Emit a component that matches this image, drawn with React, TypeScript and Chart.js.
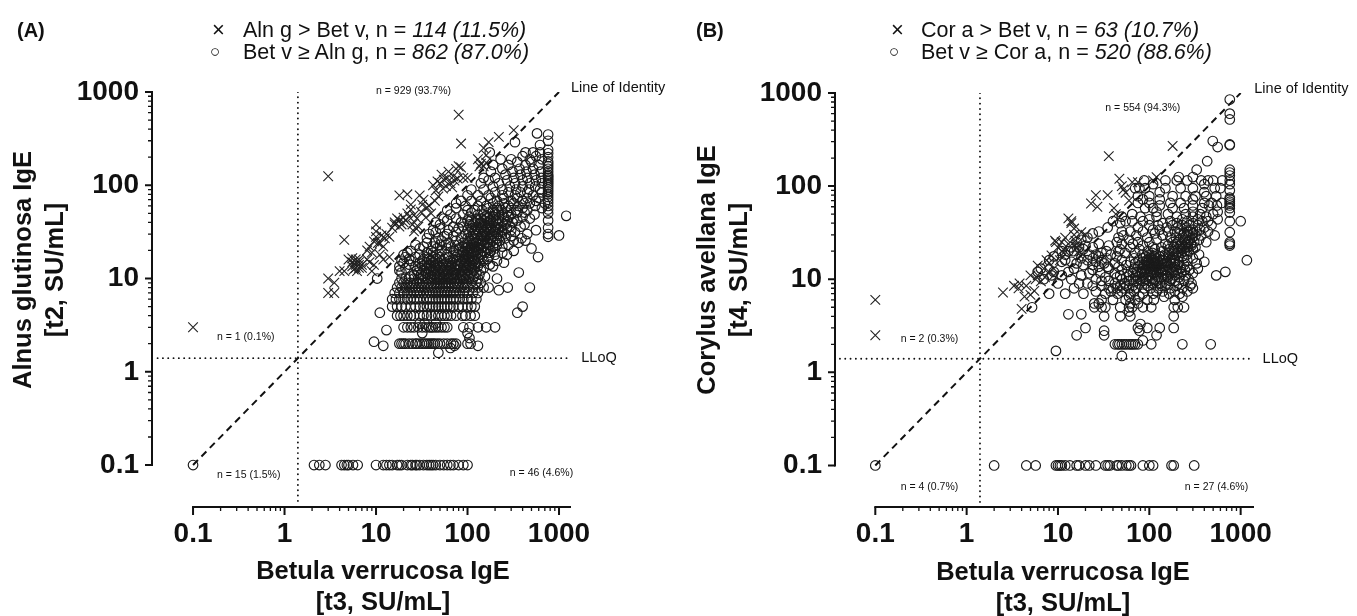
import React, { useEffect, useRef } from "react";
import { Chart, registerables } from "chart.js";

Chart.register(...registerables);

type Row = [number, number[]];
type Pair = [number, number];

const majorTicks = [0.1, 1, 10, 100, 1000];
const minorTicks = [0.2, 0.3, 0.4, 0.5, 0.6, 0.7, 0.8, 0.9, 2, 3, 4, 5, 6, 7, 8, 9, 20, 30, 40, 50, 60, 70, 80, 90, 200, 300, 400, 500, 600, 700, 800, 900];
const lloq = 1.4;

const zeroRowA = [0.1, 2.1, 2.4, 2.8, 4.2, 4.5, 4.8, 5, 5.6, 6.3, 10, 12, 13, 14, 15, 17, 18, 19, 22, 24, 25, 27, 28, 30, 33, 36, 38, 40, 42, 45, 50, 55, 60, 65, 70, 80, 90, 100];

const circleRowsA: Row[] = [
  [1.6, [48]], [1.8, [65]], [1.9, [12, 72, 130]], [2.1, [9.5]],
  [2, [18, 19, 20, 21, 23, 25, 27, 28, 30, 32, 34, 36, 38, 40, 42, 44, 47, 50, 55, 60, 66, 70, 75, 100, 108]],
  [2.3, [105]], [2.6, [32, 100]], [2.8, [13]],
  [3, [20, 22, 24, 26, 29, 32, 35, 38, 40, 42, 45, 48, 52, 56, 60, 90, 105, 130, 160, 200]],
  [3.3, [30, 34, 45]],
  [4, [17, 18.5, 20, 22, 24, 26, 30, 33, 36, 40, 44, 48, 52, 56, 60, 66, 75, 88, 95, 108, 120]],
  [4.3, [11, 350]],
  [5, [15, 17, 19, 21, 24, 27, 30, 33, 36, 39, 42, 45, 48, 52, 56, 60, 65, 70, 80, 88, 100, 110, 120, 400]],
  [6, [15, 16.5, 18, 20, 22, 24, 26, 28, 30, 33, 36, 39, 42, 45, 48, 52, 56, 60, 65, 70, 75, 82, 90, 100, 110, 125]],
  [7, [16, 18, 20, 22, 24, 26, 28, 30, 33, 36, 39, 42, 45, 48, 52, 56, 60, 65, 70, 75, 82, 90, 100, 115, 130]],
  [7.5, [220]],
  [8, [17, 19, 21, 23, 25, 27, 29, 31, 34, 37, 40, 43, 46, 50, 54, 58, 62, 67, 72, 78, 85, 92, 100, 115, 130, 150, 170, 275, 480]],
  [9, [18, 20, 22, 24, 26, 28, 30, 32, 35, 38, 41, 44, 47, 50, 54, 58, 62, 66, 71, 76, 82, 90, 98, 110, 125, 140]],
  [10, [10.3, 19, 21, 23, 26, 29, 31, 34, 37, 40, 43, 46, 49, 52, 56, 60, 64, 68, 72, 77, 83, 90, 97, 105, 115, 130, 210]],
  [10.5, [24, 33, 41, 47, 55, 63, 71, 88, 103, 118, 155]],
  [11, [26, 31, 37, 44, 50, 58, 66, 75, 86, 100, 135]],
  [11.6, [19, 29, 35, 40, 46, 54, 62, 72, 82, 94, 110, 125, 363]],
  [12.2, [18, 28, 34, 42, 48, 56, 60, 68, 76, 88, 100, 116, 140]],
  [12.9, [21, 30, 36, 39, 45, 52, 64, 72, 84, 96, 108, 120, 150]],
  [13.5, [18, 27, 32, 40, 44, 50, 58, 66, 78, 90, 104, 112, 130, 190]],
  [14.1, [23, 34, 38, 46, 54, 62, 74, 80, 92, 105, 120, 175]],
  [14.8, [20, 30, 36, 42, 48, 58, 68, 86, 98, 112, 124, 135, 250]],
  [15.5, [19, 24, 32, 40, 44, 52, 64, 76, 82, 94, 108, 116, 150, 210]],
  [16.2, [23, 33, 38, 46, 56, 70, 88, 100, 120, 130, 165]],
  [17, [21, 27, 36, 42, 50, 62, 74, 92, 105, 112, 145, 170, 590]],
  [18, [20, 30, 46, 60, 78, 84, 96, 102, 122, 140, 200, 270]],
  [18.9, [22, 36, 42, 70, 90, 108, 115, 130, 155, 175, 240]],
  [19.8, [24, 40, 52, 72, 88, 100, 118, 125, 150, 180, 320]],
  [21, [30, 46, 60, 80, 94, 106, 112, 132, 140, 165, 200, 500]],
  [22, [33, 42, 66, 88, 102, 118, 126, 150, 190, 240]],
  [23, [27, 50, 58, 80, 95, 110, 134, 142, 175, 210, 280]],
  [24.2, [36, 44, 62, 90, 100, 116, 124, 156, 165, 205, 360]],
  [25.5, [52, 75, 108, 132, 140, 148, 190, 225, 320, 430]],
  [27, [36, 48, 85, 100, 120, 130, 170, 180, 210, 260, 390]],
  [28.5, [56, 70, 110, 140, 150, 160, 195, 230, 300]],
  [30, [38, 60, 95, 115, 125, 145, 165, 185, 215, 260, 450]],
  [31.5, [45, 75, 105, 135, 155, 175, 200, 235, 330]],
  [33, [42, 62, 100, 120, 130, 150, 170, 190, 240, 300, 560]],
  [34.5, [50, 80, 110, 140, 160, 180, 205, 220, 270]],
  [36, [70, 90, 125, 145, 165, 200, 235, 290, 380]],
  [38, [50, 105, 115, 135, 155, 175, 215, 260, 420]],
  [40, [45, 85, 120, 140, 170, 190, 240, 310]],
  [42, [60, 100, 110, 130, 150, 180, 205, 270, 350]],
  [44, [55, 75, 125, 140, 165, 220, 320, 480]],
  [46, [105, 155, 175, 190, 250, 280, 400]],
  [48.5, [65, 90, 130, 150, 205, 240, 300, 540]],
  [51, [110, 170, 200, 220, 270, 350, 420]],
  [54, [60, 100, 120, 145, 190, 235, 340, 450]],
  [57, [75, 170, 210, 260, 300, 400, 650]],
  [60, [95, 130, 160, 220, 280, 360, 550]],
  [64, [75, 190, 250, 320, 420, 480, 700]],
  [68, [85, 110, 140, 210, 300, 400, 560]],
  [73, [180, 250, 350, 450, 600]],
  [78, [100, 130, 170, 240, 330, 520]],
  [84, [200, 280, 380, 450, 650]],
  [90, [110, 150, 240, 340, 470, 620]],
  [97, [190, 290, 400, 550]],
  [105, [140, 220, 330, 480, 650]],
  [113, [170, 270, 400, 560]],
  [120, [150, 200, 320, 450, 640]],
  [130, [260, 380, 540]],
  [140, [180, 310, 440, 630]],
  [150, [240, 370, 520]],
  [165, [190, 280, 430, 600]],
  [178, [350, 500]],
  [190, [230, 300, 480, 650]],
  [205, [400, 560]],
  [225, [175, 430, 520, 620]],
  [270, [620]], [290, [330]], [360, [575]],
];
const columnYA = [350, 300, 240, 220, 200, 180, 170, 160, 150, 140, 130, 125, 120, 115, 110, 105, 100, 95, 90, 85, 80, 75, 70, 65, 60, 55, 50, 42, 35, 30, 28];
const extraCirclesA: Pair[] = [[1000, 29], [1200, 47]];
const crossesA: Pair[] = [
  [0.1, 3], [3, 125], [3, 10], [3, 7], [3.5, 9], [3.5, 7], [4, 12], [4.5, 26], [4.5, 12], [5, 16], [5.5, 13.5], [5.5, 15], [5.5, 16.5], [5.7, 12.5], [6, 13], [6, 14], [6, 15], [6, 16], [6.2, 12], [6.5, 13], [6.5, 14], [6.5, 15], [6.5, 16], [7, 14], [7, 13],
  [8, 16], [8, 20], [8.5, 15], [8.5, 22], [9, 19], [9, 12], [9.5, 25], [9.5, 14], [10, 32], [10, 38], [10, 28], [10.5, 24], [11, 18], [11, 24], [11.5, 29], [12, 22], [12, 16], [12.5, 27], [13, 30], [14, 28], [14, 17], [15, 35],
  [16, 40], [16, 38], [17, 44], [18, 42], [18, 78], [18, 36], [19, 38], [20, 45], [20, 40], [21, 42], [22, 80], [22, 50], [23, 46], [24, 62], [24, 55], [25, 38], [26, 32], [26, 48], [27, 35], [28, 44], [29, 36], [30, 78], [31, 52], [32, 62], [33, 70], [35, 45], [36, 58], [38, 60], [40, 50], [42, 100], [44, 68], [45, 88],
  [47, 110], [48, 76], [50, 105], [52, 130], [54, 92], [55, 115], [58, 98], [60, 120], [62, 140], [65, 105], [68, 95], [70, 125], [72, 112], [75, 150], [78, 118], [80, 160], [80, 570], [85, 280], [85, 155], [90, 120], [100, 120], [130, 190], [135, 160], [140, 170], [150, 250], [150, 160], [160, 210], [160, 175], [170, 290], [220, 330], [320, 390],
];

const zeroRowB = [0.1, 2, 4.5, 5.7, 9.5, 10, 10.5, 11, 12, 13.5, 16, 17, 20, 22, 26, 33, 35, 37, 44, 46, 50, 56, 60, 63, 85, 100, 110, 175, 185, 310];
const circleRowsB: Row[] = [
  [1.5, [50]], [1.7, [9.5]], [2, [42, 45, 47, 50, 53, 56, 60, 63, 66, 70, 75, 105, 230, 470]], [2.2, [85]],
  [2.5, [16, 32, 120]], [2.8, [32, 78]], [3, [20, 75, 95, 130, 185]], [3.3, [80]],
  [4, [32, 48, 62, 185]], [4.2, [13, 18]], [4.5, [60]],
  [5, [5.2, 25, 30, 33, 48, 60, 65, 85, 105, 185, 205, 240]], [5.5, [25, 28, 62, 75]],
  [6, [30, 40, 55, 70, 95, 112, 190]],
  [6.5, [60, 78, 145, 230]],
  [7, [8, 12, 19, 33, 45, 62, 85, 110, 165, 215]],
  [7.4, [26, 38, 50, 68, 120, 140, 190, 260]],
  [8, [15, 36, 40, 44, 52, 60, 72, 88, 104, 125, 170, 230, 300]],
  [8.5, [24, 30, 48, 56, 66, 96, 135, 150, 200, 280]],
  [9, [10, 17, 21, 42, 54, 78, 92, 110, 130, 155, 210, 290]],
  [9.6, [30, 36, 60, 72, 85, 100, 120, 170, 190, 240]],
  [10, [7, 14, 26, 50, 66, 80, 92, 108, 116, 145, 175, 270]],
  [10.5, [33, 44, 56, 74, 86, 125, 135, 160, 210]],
  [11, [8.5, 11, 18, 48, 60, 72, 96, 104, 155, 190, 250, 540]],
  [11.6, [22, 29, 42, 66, 80, 88, 112, 120, 140, 170, 205, 300]],
  [12, [6, 9, 13, 58, 74, 82, 96, 102, 118, 134, 185, 225, 680]],
  [12.6, [24, 50, 90, 110, 126, 142, 155, 200, 245, 275]],
  [13, [6.5, 15, 36, 68, 84, 92, 100, 108, 130, 172, 220, 340]],
  [13.6, [28, 35, 46, 76, 114, 122, 148, 160, 188, 260]],
  [14.2, [19, 24, 56, 80, 88, 94, 106, 120, 128, 205, 240]],
  [14.8, [16, 32, 42, 70, 100, 112, 136, 146, 158, 172, 190, 330]],
  [15.4, [11, 14, 26, 62, 84, 92, 98, 104, 116, 124, 155, 210, 400]],
  [16, [8, 12, 21, 30, 50, 76, 94, 110, 132, 142, 170, 188, 260, 1170]],
  [16.8, [18, 24, 34, 68, 86, 100, 106, 120, 145, 175, 190, 240, 300]],
  [17.6, [9, 28, 44, 92, 112, 130, 160, 210, 230]],
  [18.4, [12, 22, 26, 38, 84, 100, 118, 148, 180, 195, 260, 350]],
  [19.2, [30, 54, 70, 108, 165, 205, 225]],
  [20, [11, 13, 15, 34, 46, 96, 140, 185, 245, 270]],
  [21, [19, 48, 78, 115, 165, 205, 225, 300]],
  [22, [14, 17, 24, 62, 110, 135, 185, 245, 265, 320]],
  [23, [20, 36, 85, 160, 215, 235, 290]],
  [24, [28, 50, 66, 150, 195, 225, 255, 285]],
  [25, [16, 44, 75, 100, 180, 205, 265, 310, 420]],
  [26.5, [18, 60, 120, 215, 245, 275, 350]],
  [28, [21, 46, 95, 170, 195, 235, 295]],
  [29.5, [52, 72, 140, 255, 275, 320, 370, 520]],
  [31, [24, 115, 215, 240, 300]],
  [32.5, [28, 50, 62, 85, 160, 190, 260, 280, 330, 440]],
  [34, [110, 130, 215, 300, 360]],
  [36, [35, 75, 155, 205, 255, 400]],
  [38, [100, 125, 180, 230, 275, 340, 480]],
  [40, [48, 140, 200, 300]],
  [42, [40, 55, 65, 85, 170, 260, 380, 440, 1000]],
  [44, [100, 230, 340, 560]],
  [47, [50, 80, 120, 200, 300, 420]],
  [50, [65, 160, 250, 360, 500]],
  [53, [120, 300, 560]],
  [58, [90, 110, 180, 240, 380]],
  [62, [130, 300, 450, 550]],
  [66, [75, 100, 170, 220, 400, 480, 620]],
  [72, [85, 130, 300]],
  [78, [75, 100, 180, 250, 320, 420, 540]],
  [86, [130, 400]],
  [95, [70, 78, 90, 150, 220, 300, 520, 600]],
  [105, [110, 400]],
  [115, [88, 150, 200, 260, 370, 440, 500, 630]],
  [125, [210, 300]], [150, [330]], [185, [430]], [263, [560]], [305, [495]],
];
const columnYB = [850, 600, 520, 280, 275, 150, 140, 130, 115, 105, 90, 75, 72, 68, 65, 62, 58, 52, 42, 32, 25, 24, 23];
const crossesB: Pair[] = [
  [0.1, 6], [0.1, 2.5], [2.5, 7.2], [3.3, 8.5], [3.7, 8], [3.8, 9], [4, 4.8], [4.3, 6.5], [4.5, 8.5], [5, 6.8], [5, 11], [5.5, 7.5], [5.7, 10], [6, 11], [6, 14], [6.5, 9.5], [7, 13], [7.2, 10.5], [7.5, 16], [8, 12], [8, 15], [8.5, 18], [9, 11], [9, 13], [9.3, 26], [9.5, 25],
  [10, 22], [10.5, 16], [11, 20], [11, 25], [12, 20], [12, 28], [13, 24], [13, 45], [14, 42], [14, 40], [15, 35], [15, 30], [15.5, 26], [16, 22], [16, 24], [17, 20], [17.5, 18], [18, 32], [20, 30], [23, 65], [26, 80], [27, 60], [35, 80], [36, 210], [41, 58], [43, 50], [47, 120], [50, 100], [52, 92], [55, 85], [60, 70], [65, 110], [75, 110], [110, 115], [120, 125], [180, 270],
];

const identityLine: Pair[] = [[0.1, 0.1], [1000, 1000]];

const FONT = '"Liberation Sans", Arial, sans-serif';
const toPoints = (p: Pair[]) => p.map(([x, y]) => ({ x, y }));

function circlePoints(rows: Row[], zero: number[], columnY: number[], columnX: number, extra: Pair[]) {
  const pts = rows.flatMap(([y, xs]) => xs.map((x) => ({ x, y })));
  zero.forEach((x) => pts.push({ x, y: 0.1 }));
  columnY.forEach((y) => pts.push({ x: columnX, y }));
  return pts.concat(toPoints(extra));
}

interface Panel {
  circles: { x: number; y: number }[];
  crosses: Pair[];
  xRange: [number, number];
  yRange: [number, number];
  area: { left: number; top: number; bottomGap: number; right: number };
  yTitle: string[];
  yTitleAt: [number, number];
  xTitle: string[];
  xTitleAt: [number, number];
  notes: { text: string; x: number; y: number; size: number }[];
}

const yTitleA = ["Alnus glutinosa IgE", "[t2, SU/mL]"];
const yTitleB = ["Corylus avellana IgE", "[t4, SU/mL]"];
const xTitleText = ["Betula verrucosa IgE", "[t3, SU/mL]"];

const panelA: Panel = {
  circles: circlePoints(circleRowsA, zeroRowA, columnYA, 760, extraCirclesA),
  crosses: crossesA,
  xRange: [0.0356, 1352],
  yRange: [0.0355, 1000],
  area: { left: 152, top: 92, bottomGap: 109, right: 571 },
  yTitle: yTitleA,
  yTitleAt: [24, 270],
  xTitle: xTitleText,
  xTitleAt: [383, 572],
  notes: [
    { text: "n = 929 (93.7%)", x: 10, y: 1030, size: 10.5 },
    { text: "n = 1 (0.1%)", x: 0.183, y: 2.35, size: 10.5 },
    { text: "n = 15 (1.5%)", x: 0.183, y: 0.078, size: 10.5 },
    { text: "n = 46 (4.6%)", x: 290, y: 0.082, size: 10.5 },
    { text: "Line of Identity", x: 1352, y: 1100, size: 14.5 },
    { text: "LLoQ", x: 1750, y: 1.4, size: 14.5 },
  ],
};

const panelB: Panel = {
  circles: circlePoints(circleRowsB, zeroRowB, columnYB, 760, []),
  crosses: crossesB,
  xRange: [0.0362, 1400],
  yRange: [0.0358, 1000],
  area: { left: 155, top: 93, bottomGap: 109, right: 574 },
  yTitle: yTitleB,
  yTitleAt: [28, 270],
  xTitle: xTitleText,
  xTitleAt: [383, 573],
  notes: [
    { text: "n = 554 (94.3%)", x: 33, y: 690, size: 10.5 },
    { text: "n = 2 (0.3%)", x: 0.19, y: 2.3, size: 10.5 },
    { text: "n = 4 (0.7%)", x: 0.19, y: 0.058, size: 10.5 },
    { text: "n = 27 (4.6%)", x: 245, y: 0.058, size: 10.5 },
    { text: "Line of Identity", x: 1410, y: 1100, size: 14.5 },
    { text: "LLoQ", x: 1740, y: 1.4, size: 14.5 },
  ],
};

const axisPlugin = (panel: Panel) => ({
  id: "axisPlugin",
  afterDraw(chart: any) {
    const { ctx, scales } = chart;
    const xs = scales.x;
    const ys = scales.y;
    const axisX = chart.chartArea.left;
    const axisY = chart.chartArea.bottom;
    ctx.save();
    ctx.strokeStyle = "#111";
    ctx.lineWidth = 2;
    ctx.beginPath();
    ctx.moveTo(axisX, ys.getPixelForValue(0.1) + 1);
    ctx.lineTo(axisX, ys.getPixelForValue(1000) - 1);
    ctx.moveTo(xs.getPixelForValue(0.1) - 1, axisY);
    ctx.lineTo(chart.chartArea.right, axisY);
    ctx.stroke();
    ctx.beginPath();
    majorTicks.forEach((v) => {
      const py = ys.getPixelForValue(v);
      ctx.moveTo(axisX - 7, py);
      ctx.lineTo(axisX, py);
      const px = xs.getPixelForValue(v);
      ctx.moveTo(px, axisY);
      ctx.lineTo(px, axisY + 8);
    });
    ctx.stroke();
    ctx.lineWidth = 1.3;
    ctx.beginPath();
    minorTicks.forEach((v) => {
      const py = ys.getPixelForValue(v);
      ctx.moveTo(axisX - 4, py);
      ctx.lineTo(axisX, py);
      const px = xs.getPixelForValue(v);
      ctx.moveTo(px, axisY);
      ctx.lineTo(px, axisY + 4);
    });
    ctx.stroke();

    ctx.fillStyle = "#111";
    ctx.textBaseline = "middle";
    ctx.textAlign = "left";
    panel.notes.forEach((n) => {
      ctx.font = `${n.size}px ${FONT}`;
      ctx.fillText(n.text, xs.getPixelForValue(n.x), ys.getPixelForValue(n.y));
    });

    ctx.font = `bold 25.5px ${FONT}`;
    ctx.textAlign = "center";
    const [xc, xt] = panel.xTitleAt;
    panel.xTitle.forEach((line, i) => ctx.fillText(line, xc, xt + i * 31));
    const [yl, yc] = panel.yTitleAt;
    panel.yTitle.forEach((line, i) => {
      ctx.save();
      ctx.translate(yl + i * 32, yc);
      ctx.rotate(-Math.PI / 2);
      ctx.fillText(line, 0, 0);
      ctx.restore();
    });
    ctx.restore();
  },
});

function makeChart(canvas: HTMLCanvasElement, panel: Panel) {
  const base = {
    type: "logarithmic" as const,
    grid: { display: false },
    border: { display: false },
    title: { display: false },
  };
  const tickSetup = {
    color: "#111",
    font: { family: FONT, weight: "bold" as const, size: 28 },
    autoSkip: false,
    maxRotation: 0,
    minRotation: 0,
    callback: (v: any) => (majorTicks.includes(Number(v)) ? String(v) : ""),
  };
  const setTicks = (s: any) => {
    s.ticks = majorTicks.map((value) => ({ value, major: true }));
  };
  const dotted = {
    showLine: true,
    borderColor: "#111",
    borderWidth: 1.9,
    borderDash: [0.01, 5.3],
    borderCapStyle: "round",
    pointRadius: 0,
  };
  return new Chart(canvas, {
    type: "scatter",
    data: {
      datasets: [
        {
          label: "Line of Identity",
          data: toPoints(identityLine),
          showLine: true,
          borderColor: "#111",
          borderWidth: 2,
          borderDash: [7, 5],
          pointRadius: 0,
        },
        { ...dotted, label: "LLoQ x", data: [{ x: lloq, y: 1000 }, { x: lloq, y: 0.0385 }] },
        { ...dotted, label: "LLoQ y", data: [{ x: 0.041, y: lloq }, { x: 1250, y: lloq }] },
        {
          label: "Above identity",
          data: toPoints(panel.crosses),
          pointStyle: "crossRot",
          pointRadius: 6.8,
          pointBorderColor: "#222",
          pointBorderWidth: 1.1,
          pointBackgroundColor: "transparent",
          showLine: false,
        },
        {
          label: "Below identity",
          data: panel.circles,
          pointStyle: "circle",
          pointRadius: 4.8,
          pointBorderColor: "#1a1a1a",
          pointBorderWidth: 1.15,
          pointBackgroundColor: "transparent",
          showLine: false,
        },
      ],
    },
    options: {
      responsive: false,
      animation: false,
      events: [],
      layout: {
        padding: { left: 0, top: panel.area.top, right: canvas.width - panel.area.right, bottom: 0 },
      },
      plugins: { legend: { display: false }, tooltip: { enabled: false } },
      scales: {
        x: {
          ...base,
          min: panel.xRange[0],
          max: panel.xRange[1],
          afterBuildTicks: setTicks,
          afterFit: (s: any) => {
            s.height = panel.area.bottomGap;
          },
          ticks: { ...tickSetup, padding: 2 },
        },
        y: {
          ...base,
          min: panel.yRange[0],
          max: panel.yRange[1],
          afterBuildTicks: setTicks,
          afterFit: (s: any) => {
            s.width = panel.area.left;
          },
          ticks: { ...tickSetup, padding: 5 },
        },
      },
    },
    plugins: [axisPlugin(panel)],
  } as any);
}

const legendStyle = (left: number, top: number): React.CSSProperties => ({
  position: "absolute",
  left,
  top,
  font: `21.5px ${FONT}`,
  color: "#111",
  whiteSpace: "pre",
  lineHeight: "22px",
});

function LegendRow(props: { sx: number; tx: number; y: number; sym: string; symSize: number; text: string; count: string }) {
  return (
    <>
      <span style={{ ...legendStyle(props.sx, props.y), fontSize: props.symSize, fontWeight: 300 }}>{props.sym}</span>
      <span style={legendStyle(props.tx, props.y)}>
        {props.text}
        <i>{props.count}</i>
      </span>
    </>
  );
}

export default function App() {
  const a = useRef<HTMLCanvasElement>(null);
  const b = useRef<HTMLCanvasElement>(null);
  useEffect(() => {
    const ca = makeChart(a.current!, panelA);
    const cb = makeChart(b.current!, panelB);
    return () => {
      ca.destroy();
      cb.destroy();
    };
  }, []);
  return (
    <div style={{ position: "fixed", left: 0, top: 0, width: 1357, height: 616, background: "#fff", overflow: "hidden" }}>
      <canvas ref={a} width={680} height={616} style={{ position: "absolute", left: 0, top: 0 }} />
      <canvas ref={b} width={677} height={616} style={{ position: "absolute", left: 680, top: 0 }} />
      <span style={{ ...legendStyle(17, 19), font: `bold 20px ${FONT}` }}>(A)</span>
      <span style={{ ...legendStyle(696, 19), font: `bold 20px ${FONT}` }}>(B)</span>
      <LegendRow sx={212} tx={243} y={19} sym="×" symSize={22} text="Aln g > Bet v, n = " count="114 (11.5%)" />
      <LegendRow sx={210} tx={243} y={41} sym="○" symSize={17} text="Bet v ≥ Aln g, n = " count="862 (87.0%)" />
      <LegendRow sx={891} tx={921} y={19} sym="×" symSize={22} text="Cor a > Bet v, n = " count="63 (10.7%)" />
      <LegendRow sx={889} tx={921} y={41} sym="○" symSize={17} text="Bet v ≥ Cor a, n = " count="520 (88.6%)" />
    </div>
  );
}
